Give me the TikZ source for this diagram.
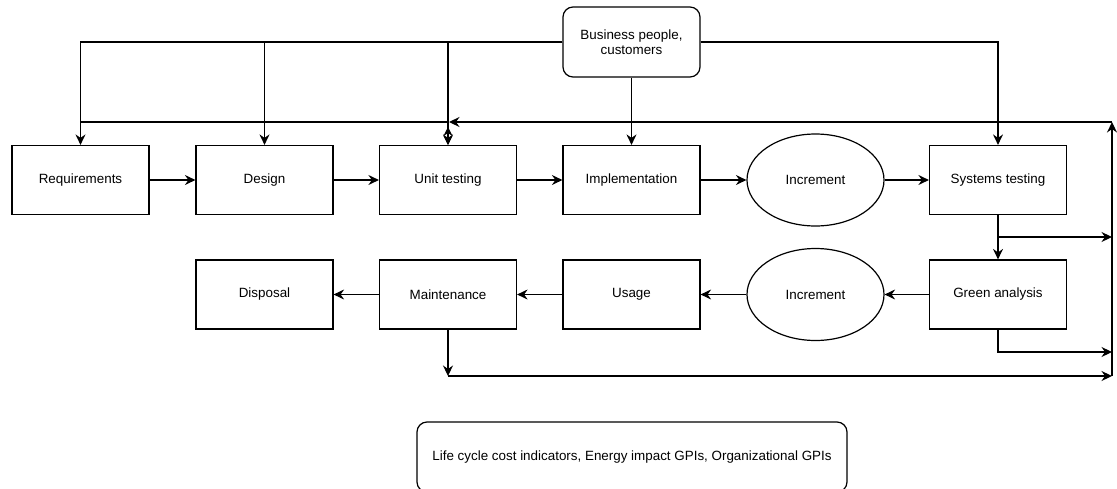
\documentclass[tikz,border=0pt]{standalone}
\usepackage{fontspec}
\setmainfont{Liberation Sans}
\usetikzlibrary{arrows.meta,shapes.geometric}
\begin{document}
\begin{tikzpicture}[x=1pt,y=-1pt,
  every node/.style={font=\fontsize{13.4pt}{15.5pt}\selectfont, align=center, inner sep=0pt},
  stage/.style={draw, line width=1.2pt, minimum width=137pt, minimum height=69pt},
  actor/.style={draw, line width=1.2pt, rounded corners=10pt, minimum width=137pt, minimum height=70pt},
  inc/.style={draw, line width=1.2pt, ellipse, minimum width=137pt, minimum height=92pt},
  link/.style={line width=1.2pt},
  tip/.tip={Stealth[length=10.5pt,width=10pt,inset=3.5pt]},
  smalltip/.tip={Stealth[length=9pt,width=9pt,inset=3pt]},
  arr/.style={line width=1.2pt, -tip},
  darr/.style={line width=1.2pt, smalltip-smalltip}]
\useasboundingbox (0,0) rectangle (1117,488);
\clip (0,0) rectangle (1117,488);

% stakeholders
\node[actor] (bp) at (631.5,42) {Business people,\\customers};

% development row
\node[stage] (req)  at (80.5,180)  {Requirements};
\node[stage] (des)  at (264.5,180) {Design};
\node[stage] (ut)   at (448,180)   {Unit testing};
\node[stage] (impl) at (631.5,180) {Implementation};
\node[inc]   (inc1) at (815.5,180) {Increment};
\node[stage] (sys)  at (998,180)   {Systems testing};

% operation row
\node[stage] (disp)  at (264.5,294.5) {Disposal};
\node[stage] (maint) at (448,294.5)   {Maintenance};
\node[stage] (use)   at (631.5,294.5) {Usage};
\node[inc]   (inc2)  at (815.5,294.5) {Increment};
\node[stage] (green) at (998,294.5)   {Green analysis};

% indicators
\node[actor, minimum width=430pt] (gpi) at (632,457) {Life cycle cost indicators, Energy impact GPIs, Organizational GPIs};

% feedback bus corners
\coordinate (busTR) at (1112,122);
\coordinate (busBR) at (1112,376);
\coordinate (busTL) at (80,122);
\coordinate (busIn) at (449,122);

% stakeholder fan-out
\draw[arr] (bp.west) -| (req.north);
\draw[arr] (bp.west) -| (des.north);
\draw[arr] (bp.west) -| (ut.north);
\draw[arr] (bp.south) -- (impl.north);
\draw[arr] (bp.east) -| (sys.north);

% development flow
\draw[arr] (req) -- (des);
\draw[arr] (des) -- (ut);
\draw[arr] (ut) -- (impl);
\draw[arr] (impl) -- (inc1);
\draw[arr] (inc1) -- (sys);
\draw[arr] (sys) -- (green);

% operation flow
\draw[arr] (green) -- (inc2);
\draw[arr] (inc2) -- (use);
\draw[arr] (use) -- (maint);
\draw[arr] (maint) -- (disp);

% feedback bus
\draw[arr] (sys.south |- 0,237) -- (1112,237);
\draw[arr] (green.south) |- (1112,352);
\draw[arr] (maint.south) -- (maint.south |- busBR);
\draw[arr] (maint.south |- busBR) -- (busBR);
\draw[arr] (busBR) -- (busTR);
\draw[arr] (busTR) -- (busIn);
\draw[link] (busIn) -- (busTL);
\draw[darr] (448,127) -- (ut.north);
\end{tikzpicture}
\end{document}
